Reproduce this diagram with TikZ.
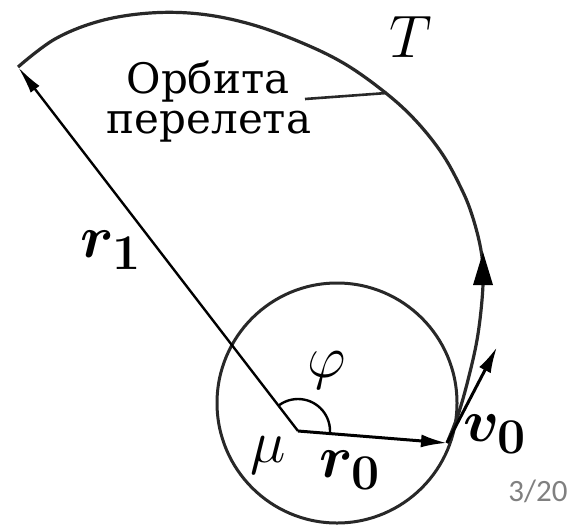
\documentclass[tikz,border=0pt]{standalone}
\usepackage{graphicx}
\usepackage{bm}
\usepackage{fontspec}
\newfontfamily\cyrfont{DejaVu Serif}
\newfontfamily\numfont{Carlito}
\usetikzlibrary{arrows.meta}
\definecolor{pagegray}{RGB}{128,128,128}
\definecolor{linegray}{RGB}{40,40,40}
\newcommand{\biglab}[1]{\scalebox{2.41}{\Huge #1}}
\begin{document}
\begin{tikzpicture}[x=1pt,y=-1pt,
  curve/.style={line width=3.2pt, draw=linegray},
  vecarrow/.style={line width=3pt, -{Latex[length=26pt,width=13pt]}},
  lab/.style={inner sep=0pt},
  cyrtext/.style={inner sep=0pt, anchor=base, font=\cyrfont\fontsize{42}{42}\selectfont},
  ]
\useasboundingbox (0,0) rectangle (577,525);
\coordinate (mu) at (298,431);
\coordinate (P0) at (447,443);
\coordinate (P1) at (18,67);
\coordinate (V) at (497,347);
\node[circle, draw=linegray, line width=3pt, minimum size=240pt, inner sep=0pt] (dep) at (337,403) {};
\draw[curve] plot[smooth, tension=0.6] coordinates {(447,443) (458,415) (468,380) (477,340) (482,300) (483,270) (480,245) (472,215) (462,190) (443,155) (417,122) (387,94) (345,64) (300,42) (250,24) (200,14) (150,13) (100,21) (55,39) (18,67)};
\fill[black] (483,252) -- (473,285) -- (493,285) -- cycle;
\draw[line width=2.4pt, -{Latex[length=28pt,width=11pt]}] (mu) -- (P1);
\draw[vecarrow] (mu) -- (P0);
\draw[vecarrow] (P0) -- (V);
\draw[line width=2.4pt] (mu) ++(5:32) arc[start angle=5, end angle=-127.6, radius=32];
\node[lab] (T) at (411,37) {\biglab{$T$}};
\node[lab] (r1) at (111,250) {\biglab{$\bm{r}_{\bm{1}}$}};
\node[lab] (phi) at (327,370) {\biglab{$\varphi$}};
\node[lab] (mul) at (268,455) {\biglab{$\mu$}};
\node[lab] (r0) at (350,470) {\biglab{$\bm{r}_{\bm{0}}$}};
\node[lab] (v0) at (495,434) {\biglab{$\bm{v}_{\bm{0}}$}};
\node[cyrtext] (orb1) at (208,93) {Орбита};
\node[cyrtext] (orb2) at (209,133) {перелета};
\coordinate (lead) at (305,99);
\coordinate (touch) at (387,93);
\draw[line width=2.6pt, draw=linegray] (lead) -- (touch);
\node[font=\numfont\fontsize{31}{31}\selectfont, text=pagegray, inner sep=0pt] (pg) at (538,491) {3/20};
\end{tikzpicture}
\end{document}
